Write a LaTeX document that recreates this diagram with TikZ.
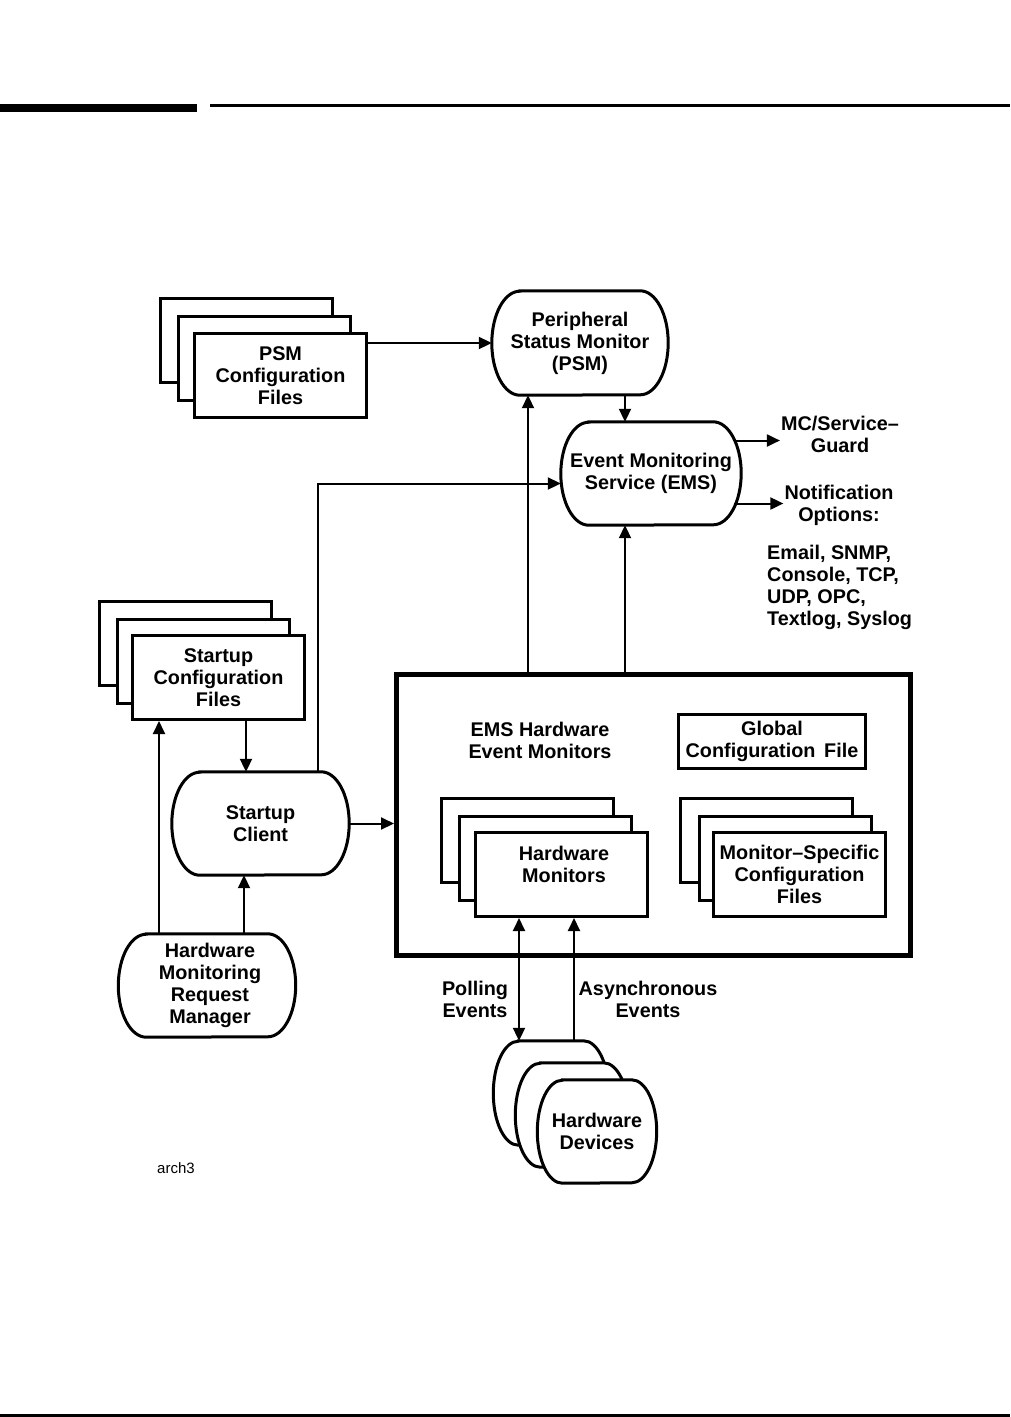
\documentclass[tikz,border=0pt]{standalone}
\usepackage{fontspec}
\setmainfont{Liberation Sans}
\usetikzlibrary{arrows.meta,calc,backgrounds}
\newcommand\termline[4][]{\draw[line width=3pt,#1] ([xshift=#3pt]#2.north west) -- ([xshift=-#3pt]#2.north east) arc[start angle=90,end angle=-90,x radius=#3pt,y radius=#4pt] -- ([xshift=#3pt]#2.south west) arc[start angle=270,end angle=90,x radius=#3pt,y radius=#4pt] -- cycle;}
\begin{document}
\begin{tikzpicture}[x=1pt,y=-1pt,
  lbl/.style={font=\fontsize{19.8}{22}\selectfont\bfseries, align=center, inner sep=1pt},
  filebox/.style={draw, line width=3pt, fill=white, minimum width=172pt, minimum height=84pt, inner sep=0pt, lbl},
  term/.style={lbl, inner sep=0pt},
  conn/.style={line width=2pt},
  arr/.style={conn,-{Triangle[length=13pt,width=12pt]}},
  darr/.style={conn,{Triangle[length=13pt,width=12pt]}-{Triangle[length=13pt,width=12pt]}}]
\useasboundingbox (0,0) rectangle (1010,1417);
% page rules
\fill (0,104) rectangle (197,112);
\draw[line width=2.5pt] (210,105.5) -- (1010,105.5);
\draw[line width=3pt] (0,1415.5) -- (1010,1415.5);

% column coordinates
\coordinate (x159) at (159,0);
\coordinate (x244) at (244,0);
\coordinate (x246) at (246,0);
\coordinate (x318) at (318,0);
\coordinate (x519) at (519,0);
\coordinate (x528) at (528,0);
\coordinate (x574) at (574,0);
\coordinate (x625) at (625,0);

% PSM configuration files
\node[filebox] (psmc3) at (246.5,340) {};
\node[filebox] (psmc2) at (264.5,358) {};
\node[filebox] (psmc1) at (280.5,375.5) {PSM\\Configuration\\Files};

% PSM and EMS
\node[term,minimum width=176pt,minimum height=104pt] (psm) at (580,343) {Peripheral\\Status Monitor\\(PSM)};
\node[term,minimum width=180pt,minimum height=103pt] (ems) at (651,473.5) {Event Monitoring\\Service (EMS)};

\node[lbl] (mc) at (840,434) {MC/Service–\\Guard};
\node[lbl] (notif) at (839,505) {Notification\\Options:};
\node[lbl, align=left, anchor=north west, inner sep=0pt] (opts) at (767,545) {Email, SNMP,\\Console, TCP,\\UDP, OPC,\\Textlog, Syslog};

% Startup configuration files
\node[filebox] (st3) at (185,643.5) {};
\node[filebox] (st2) at (203,661) {};
\node[filebox] (st1) at (218.5,677.5) {Startup\\Configuration\\Files};

\node[term,minimum width=177pt,minimum height=103pt] (sc) at (260.5,823.5) {Startup\\Client};
\node[term,minimum width=177pt,minimum height=103pt] (hwm) at (207,985.5) {\hspace*{6pt}Hardware\\\hspace*{6pt}Monitoring\\\hspace*{6pt}Request\\\hspace*{6pt}Manager};

% EMS hardware event monitors box
\node[draw,line width=5pt,minimum width=514pt,minimum height=281pt,inner sep=0pt] (emsbox) at (653.5,815) {};
\node[lbl] (emshw) at (540,740) {EMS Hardware\\Event Monitors};
\node[draw,line width=3pt,minimum width=187pt,minimum height=54pt,inner sep=0pt,lbl] (glob) at (772,741) {Global\\Configuration\, File};

\node[filebox] (hm3) at (527.5,840) {};
\node[filebox] (hm2) at (545.5,858) {};
\node[filebox] (hm1) at (561.5,874.5) {};
\node[lbl] (hmtext) at (564,864) {Hardware\\Monitors};

\node[filebox] (ms3) at (766.5,840) {};
\node[filebox] (ms2) at (785,858) {};
\node[filebox] (ms1) at (799.5,874.5) {Monitor–Specific\\Configuration\\Files};

% Hardware devices
\node[term,minimum width=115pt,minimum height=104pt] (dev3) at (551,1093) {};
\node[term,minimum width=113pt,minimum height=104pt] (dev2) at (572,1115) {};
\node[term,minimum width=119pt,minimum height=103pt] (dev1) at (597,1131.5) {Hardware\\Devices};

\node[lbl] (poll) at (475,999) {Polling\\Events};
\node[lbl] (async) at (648,999) {Asynchronous\\Events};

\node[font=\fontsize{15}{18}\selectfont, inner sep=0pt] (arch) at (176,1168) {arch3};

% outlines of rounded shapes
\begin{pgfonlayer}{background}
\termline{psm}{28}{52}
\termline{ems}{28}{51.5}
\termline{sc}{28}{51.5}
\termline{hwm}{28}{51.5}
\termline[fill=white]{dev3}{25}{52}
\termline[fill=white]{dev2}{25}{52}
\termline[fill=white]{dev1}{25}{51.5}
\end{pgfonlayer}

% connectors
\draw[arr] (psmc1.east |- psm.west) -- (psm.west);
\draw[arr] (psm.south -| x625) -- (ems.north -| x625);
\draw[arr] (emsbox.north -| x528) -- (psm.south -| x528);
\draw[arr] (emsbox.north -| x625) -- (ems.south -| x625);
\draw[arr] (sc.north -| x318) |- ([yshift=-10pt]ems.west);
\coordinate (mcfrom) at ([xshift=-7pt,yshift=33pt]ems.east);
\coordinate (notfrom) at ([xshift=-7pt,yshift=-30pt]ems.east);
\draw[arr] (mcfrom) -- (mcfrom -| mc.west);
\draw[arr] (notfrom) -- (notfrom -| notif.west);
\draw[arr] (st1.south -| x246) -- (sc.north -| x246);
\draw[arr] (sc.east) -- (sc.east -| emsbox.west);
\draw[arr] (hwm.north -| x159) -- (st1.south -| x159);
\draw[arr] (hwm.north -| x244) -- (sc.south -| x244);
\draw[darr] (hm1.south -| x519) -- (dev3.north -| x519);
\draw[arr] (dev3.north -| x574) -- (hm1.south -| x574);
\end{tikzpicture}
\end{document}
